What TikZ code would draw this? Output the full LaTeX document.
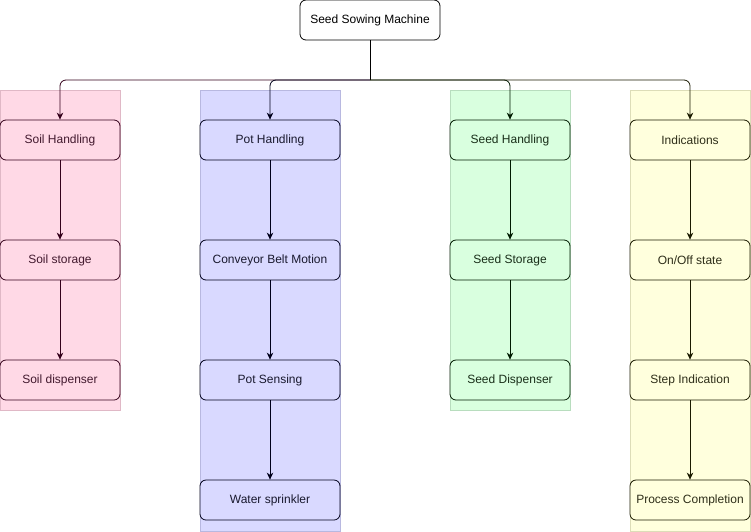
\documentclass[tikz,border=0pt]{standalone}
\usepackage{fontspec}
\setmainfont{Liberation Sans}
\usetikzlibrary{arrows.meta}
\definecolor{pinkfill}{HTML}{FFD9E6}
\definecolor{pinkline}{HTML}{E0B8C6}
\definecolor{pinkdark}{HTML}{33001A}
\definecolor{bluefill}{HTML}{D9D9FF}
\definecolor{blueline}{HTML}{B8B8E0}
\definecolor{bluedark}{HTML}{00001A}
\definecolor{greenfill}{HTML}{D9FFDF}
\definecolor{greenline}{HTML}{B8DDBE}
\definecolor{greendark}{HTML}{001A00}
\definecolor{yellowfill}{HTML}{FFFFDD}
\definecolor{yellowline}{HTML}{DDDDB8}
\definecolor{yellowdark}{HTML}{1A1A00}
\tikzset{
  lane/.style={draw=#1line, fill=#1fill, line width=0.8pt},
  block/.style={draw=#1dark, fill=#1fill, text=#1dark!80!gray, rounded corners=6pt,
    minimum height=40pt, inner sep=0pt, line width=0.8pt, font=\fontsize{12}{14}\selectfont},
  link/.style={draw=#1dark, line width=0.8pt, -{Stealth[length=7pt,width=6.5pt]}},
  trunk/.style={draw=black, line width=0.8pt, rounded corners=6pt, -{Stealth[length=7pt,width=6.5pt]}},
}
\begin{document}
\begin{tikzpicture}[x=1pt,y=-1pt]
\useasboundingbox (0,0) rectangle (751,531);
% lanes
\fill[white] (0,0) rectangle (751,531);
\draw[lane=pink] (0,90) rectangle (120,410);
\draw[lane=blue] (200,90) rectangle (340,531);
\draw[lane=green] (450,90) rectangle (570,410);
\draw[lane=yellow] (630,90) rectangle (750,531);
% root
\node[draw=black, fill=white, rounded corners=6pt, minimum width=140pt, minimum height=40pt,
  inner sep=0pt, line width=0.8pt, font=\fontsize{12}{14}\selectfont] (root) at (370,20) {Seed Sowing Machine};
\coordinate (j) at (370,80);
% soil column
\node[block=pink, minimum width=120pt] (s1) at (60,140) {Soil Handling};
\node[block=pink, minimum width=120pt] (s2) at (60,260) {Soil storage};
\node[block=pink, minimum width=120pt] (s3) at (60,380) {Soil dispenser};
% pot column
\node[block=blue, minimum width=140pt] (p1) at (270,140) {Pot Handling};
\node[block=blue, minimum width=140pt] (p2) at (270,260) {Conveyor Belt Motion};
\node[block=blue, minimum width=140pt] (p3) at (270,380) {Pot Sensing};
\node[block=blue, minimum width=140pt] (p4) at (270,500) {Water sprinkler};
% seed column
\node[block=green, minimum width=120pt] (d1) at (510,140) {Seed Handling};
\node[block=green, minimum width=120pt] (d2) at (510,260) {Seed Storage};
\node[block=green, minimum width=120pt] (d3) at (510,380) {Seed Dispenser};
% indication column
\node[block=yellow, minimum width=120pt] (i1) at (690,140) {Indications};
\node[block=yellow, minimum width=120pt] (i2) at (690,260) {On/Off state};
\node[block=yellow, minimum width=120pt] (i3) at (690,380) {Step Indication};
\node[block=yellow, minimum width=120pt] (i4) at (690,500) {Process Completion};
% tree connectors
\draw[line width=0.8pt] (root) -- (j);
\draw[trunk, draw=pinkdark] (j) -| (s1);
\draw[trunk, draw=bluedark] (j) -| (p1);
\draw[trunk, draw=greendark] (j) -| (d1);
\draw[trunk, draw=yellowdark] (j) -| (i1);
% column connectors
\draw[link=pink] (s1) -- (s2);
\draw[link=pink] (s2) -- (s3);
\draw[link=blue] (p1) -- (p2);
\draw[link=blue] (p2) -- (p3);
\draw[link=blue] (p3) -- (p4);
\draw[link=green] (d1) -- (d2);
\draw[link=green] (d2) -- (d3);
\draw[link=yellow] (i1) -- (i2);
\draw[link=yellow] (i2) -- (i3);
\draw[link=yellow] (i3) -- (i4);
\end{tikzpicture}
\end{document}
